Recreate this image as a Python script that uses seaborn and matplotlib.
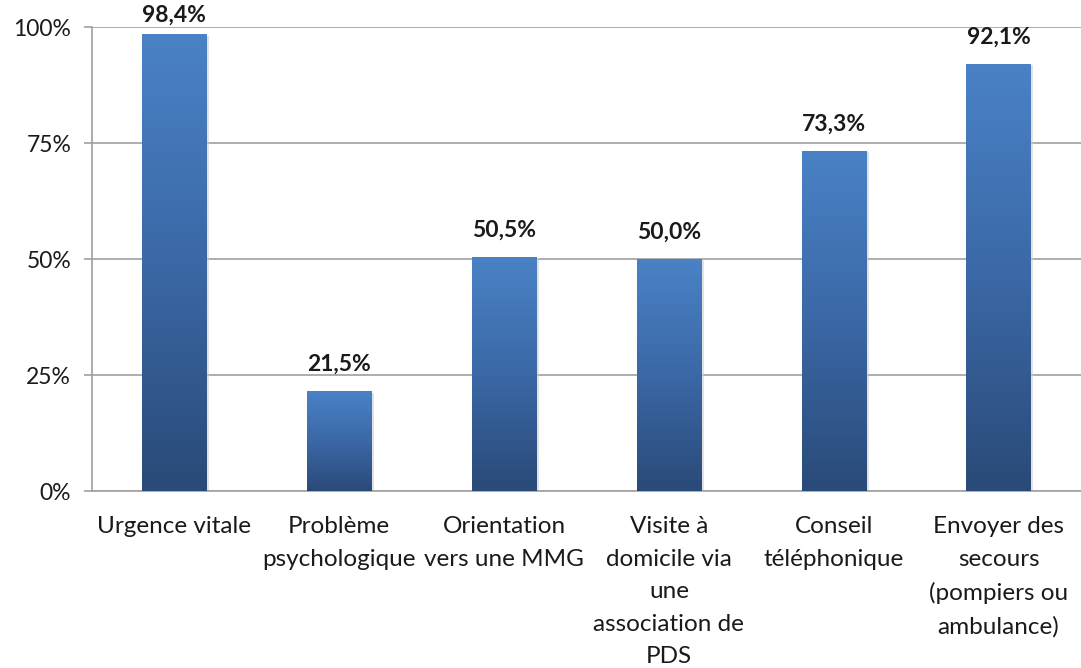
import matplotlib
matplotlib.use("Agg")
import matplotlib.pyplot as plt
import seaborn as sns
import numpy as np
import pandas as pd
from matplotlib.colors import LinearSegmentedColormap

categories = ["Urgence vitale", "Problème\npsychologique", "Orientation\nvers une MMG",
              "Visite à\ndomicile via\nune\nassociation de\nPDS", "Conseil\ntéléphonique",
              "Envoyer des\nsecours\n(pompiers ou\nambulance)"]
values = [98.4, 21.5, 50.5, 50.0, 73.3, 92.1]
value_labels = ["98,4%", "21,5%", "50,5%", "50,0%", "73,3%", "92,1%"]
yticks = [0, 25, 50, 75, 100]
ytick_labels = ["0%", "25%", "50%", "75%", "100%"]

sns.set_style("white")
plt.rcParams['font.family'] = ['Lato', 'DejaVu Sans']

df = pd.DataFrame({"cat": categories, "val": values})

fig = plt.figure(figsize=(10.81, 6.68), dpi=100)
ax = fig.add_axes([92/1081, 1-491/668, (1081-92)/1081, (491-27)/668])

sns.barplot(data=df, x="cat", y="val", ax=ax, width=0.39, color="#3d6aa8", zorder=3)

cmap = LinearSegmentedColormap.from_list("g", ["#2a4a78", "#3b68a6", "#4a82c6"])
grad = np.linspace(0, 1, 256).reshape(-1, 1)
for p in ax.patches:
    x0, y0 = p.get_x(), p.get_y()
    w, h = p.get_width(), p.get_height()
    ax.add_patch(plt.Rectangle((x0 + 0.012, y0), w + 0.004, h - 0.3, color="#d0d0d0",
                               alpha=0.6, zorder=2, lw=0))
    im = ax.imshow(grad, extent=[x0, x0 + w, y0, y0 + h], origin="lower",
                   cmap=cmap, aspect="auto", zorder=4)
    im.set_clip_path(p)
    p.set_edgecolor("none")

for i, (v, lab) in enumerate(zip(values, value_labels)):
    ax.text(i, min(v + 3.5, 100.3), lab, ha="center", va="bottom", fontsize=16.5,
            fontweight="bold", color="#1a1a1a", zorder=5, clip_on=False)

ax.set_xlim(-0.5, len(categories) - 0.5)
ax.set_ylim(0, 100)
ax.set_yticks(yticks)
ax.set_yticklabels(ytick_labels, fontsize=16.5, color="#1a1a1a")
ax.set_xticks(range(len(categories)))
ax.set_xticklabels(categories, fontsize=17.5, color="#1a1a1a", linespacing=1.68, va="top")
ax.tick_params(axis="x", length=0, pad=18)
ax.tick_params(axis="y", length=6, width=1.2, color="#a0a0a0", direction="out", left=True, pad=9)
ax.set_xlabel("")
ax.set_ylabel("")
ax.yaxis.grid(True, color="#a0a0a0", linewidth=1.2, zorder=0)
ax.set_axisbelow(True)
for s in ["top", "right"]:
    ax.spines[s].set_visible(False)
ax.spines["left"].set_color("#a0a0a0")
ax.spines["left"].set_linewidth(1.2)
ax.spines["bottom"].set_color("#a0a0a0")
ax.spines["bottom"].set_linewidth(1.2)

fig.savefig("out.png", dpi=100)
